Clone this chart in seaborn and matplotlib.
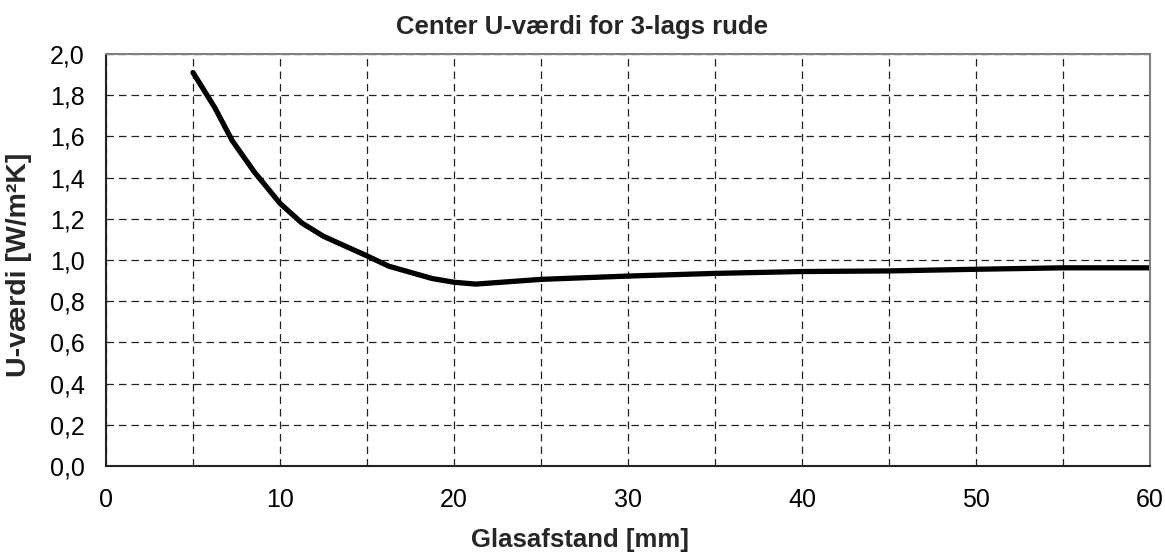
import numpy as np
import pandas as pd
import matplotlib
matplotlib.use("Agg")
import matplotlib.pyplot as plt
import seaborn as sns
from matplotlib.ticker import MultipleLocator, FixedLocator

# data
glasafstand = [5, 6.25, 7.25, 8.5, 10, 11.25, 12.5, 15, 16.25, 18.75, 20, 21.25,
               25, 30, 35, 40, 45, 50, 55, 60]
u_vaerdi = [1.91, 1.74, 1.58, 1.43, 1.275, 1.18, 1.115, 1.02, 0.97, 0.91, 0.892, 0.883,
            0.906, 0.922, 0.935, 0.944, 0.947, 0.955, 0.962, 0.962]

x_ticks = [0, 10, 20, 30, 40, 50, 60]
y_ticks = [0.0, 0.2, 0.4, 0.6, 0.8, 1.0, 1.2, 1.4, 1.6, 1.8, 2.0]
y_ticklabels = ["0,0", "0,2", "0,4", "0,6", "0,8", "1,0", "1,2", "1,4", "1,6", "1,8", "2,0"]

title = "Center U-værdi for 3-lags rude"
xlabel = "Glasafstand [mm]"
ylabel = "U-værdi [W/m²K]"

df = pd.DataFrame({"Glasafstand": glasafstand, "U": u_vaerdi})

sns.set_style("white")
plt.rcParams['font.family'] = ['Liberation Sans', 'DejaVu Sans']

fig = plt.figure(figsize=(11.65, 5.54), dpi=100)
ax = fig.add_axes([106 / 1165, 1 - 466 / 554, (1150 - 106) / 1165, (466 - 54) / 554])

sns.lineplot(data=df, x="Glasafstand", y="U", color="black", linewidth=3.8, ax=ax)

ax.set_xlim(0, 60)
ax.set_ylim(0, 2.0)
ax.xaxis.set_major_locator(FixedLocator(x_ticks))
ax.xaxis.set_minor_locator(MultipleLocator(5))
ax.set_yticks(y_ticks)
ax.set_yticklabels(y_ticklabels)

ax.grid(True, which="both", axis="x", color="#222222", linestyle=(0, (6, 4)), linewidth=0.9)
ax.grid(True, which="major", axis="y", color="#222222", linestyle=(0, (6, 4)), linewidth=0.9)
ax.tick_params(axis="both", which="major", direction="out", length=6.5, width=1,
               color="black", labelsize=18, labelcolor="black")
ax.tick_params(axis="x", which="minor", length=0)
ax.tick_params(axis="y", pad=9)
ax.tick_params(axis="x", pad=9)

ax.set_xlabel("")
ax.set_ylabel("")
for side in ["top", "right"]:
    ax.spines[side].set_color("#808080")
    ax.spines[side].set_linewidth(1.5)
for side in ["left", "bottom"]:
    ax.spines[side].set_color("#222222")
    ax.spines[side].set_linewidth(1.5)

fig.text(0.5, 1 - 27 / 554, title, ha="center", va="center", fontsize=18.5, fontweight="bold")
fig.text(0.498, 1 - 540 / 554, xlabel, ha="center", va="center", fontsize=18.5, fontweight="bold")
fig.text(19 / 1165, 1 - 265 / 554, ylabel, ha="center", va="center", rotation=90,
         fontsize=20.5, fontweight="bold")

fig.savefig("out.png", dpi=100)
